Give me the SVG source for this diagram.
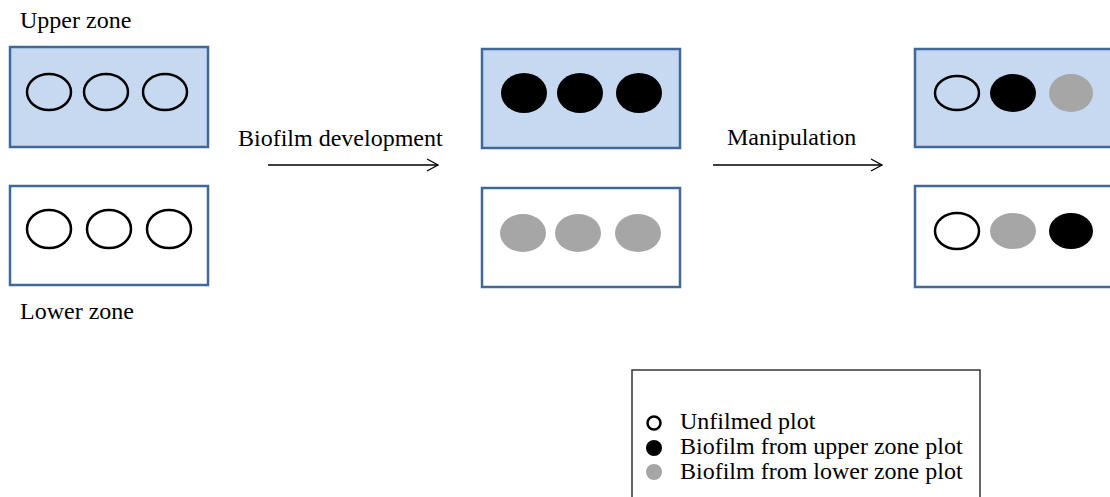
<svg xmlns="http://www.w3.org/2000/svg" width="1110" height="497" viewBox="0 0 1110 497">
<defs>
<style>
text{font-family:"Liberation Serif","Times New Roman",serif;font-size:24px;fill:#000}
.up{fill:#C6D9F1;stroke:#41689A;stroke-width:2.5}
.lo{fill:#fff;stroke:#41689A;stroke-width:2.5}
.e{fill:none;stroke:#000;stroke-width:2.5}
.b{fill:#000}
.g{fill:#A6A6A6}
.conn{stroke:#000;stroke-width:1.3;fill:none}
</style>
<marker id="arr" markerWidth="14" markerHeight="14" refX="12" refY="7" orient="auto" markerUnits="userSpaceOnUse">
<path d="M1,1 L12,7 L1,13" fill="none" stroke="#000" stroke-width="1.3"/>
</marker>
</defs>
<rect width="1110" height="497" fill="#fff"/>
<g id="upper-label"><text x="20" y="28">Upper zone</text></g>
<g id="lower-label"><text x="20" y="319">Lower zone</text></g>
<g id="box1-upper">
<rect class="up" x="10" y="47" width="198" height="100"/>
<ellipse class="e" cx="49" cy="92" rx="22" ry="18"/>
<ellipse class="e" cx="106" cy="92" rx="22" ry="18"/>
<ellipse class="e" cx="165" cy="92" rx="22" ry="18"/>
</g>
<g id="box1-lower">
<rect class="lo" x="10" y="186" width="198" height="99"/>
<ellipse class="e" cx="49" cy="229" rx="22" ry="19"/>
<ellipse class="e" cx="109" cy="229" rx="22" ry="19"/>
<ellipse class="e" cx="169" cy="229" rx="22" ry="19"/>
</g>
<g id="box2-upper">
<rect class="up" x="482" y="49" width="198" height="99"/>
<ellipse class="b" cx="524" cy="93" rx="23" ry="20"/>
<ellipse class="b" cx="580" cy="93" rx="23" ry="20"/>
<ellipse class="b" cx="639" cy="93" rx="23" ry="20"/>
</g>
<g id="box2-lower">
<rect class="lo" x="482" y="188" width="198" height="99"/>
<ellipse class="g" cx="523" cy="233" rx="23" ry="19"/>
<ellipse class="g" cx="578" cy="233" rx="23" ry="19"/>
<ellipse class="g" cx="638" cy="233" rx="23" ry="19"/>
</g>
<g id="box3-upper">
<rect class="up" x="915" y="49" width="198" height="98"/>
<ellipse class="e" cx="957" cy="93" rx="22" ry="17"/>
<ellipse class="b" cx="1013" cy="93" rx="23" ry="19"/>
<ellipse class="g" cx="1071" cy="93" rx="22" ry="19"/>
</g>
<g id="box3-lower">
<rect class="lo" x="915" y="186" width="198" height="101"/>
<ellipse class="e" cx="957" cy="231" rx="22" ry="18"/>
<ellipse class="g" cx="1013" cy="231" rx="23" ry="18"/>
<ellipse class="b" cx="1071" cy="231" rx="22" ry="18"/>
</g>
<g id="connectors">
<line class="conn" x1="268" y1="165" x2="438" y2="165" marker-end="url(#arr)"/>
<line class="conn" x1="713" y1="165" x2="882" y2="165" marker-end="url(#arr)"/>
</g>
<g id="arrow-labels">
<text x="238" y="146">Biofilm development</text>
<text x="727" y="145">Manipulation</text>
</g>
<g id="legend">
<rect x="632" y="370" width="348" height="140" fill="#fff" stroke="#333" stroke-width="1.5"/>
<circle cx="654" cy="423" r="6.5" fill="none" stroke="#000" stroke-width="2.5"/>
<circle cx="654" cy="448" r="8" fill="#000"/>
<circle cx="654" cy="472" r="8" fill="#A6A6A6"/>
<text x="680" y="429">Unfilmed plot</text>
<text x="680" y="454">Biofilm from upper zone plot</text>
<text x="680" y="479">Biofilm from lower zone plot</text>
</g>
</svg>
